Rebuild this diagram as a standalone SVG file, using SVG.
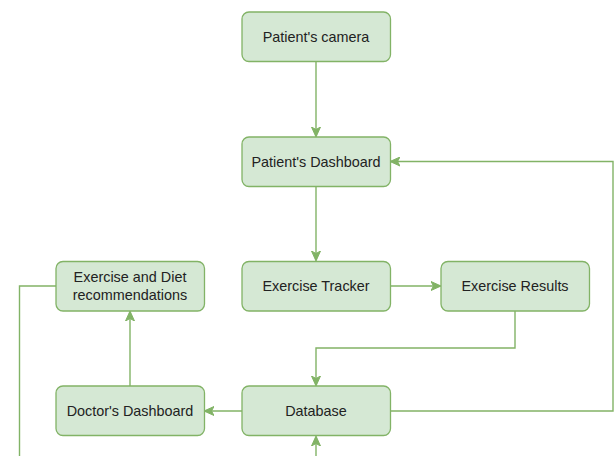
<svg xmlns="http://www.w3.org/2000/svg" width="614" height="456" viewBox="0 0 614 456">
<defs>
<style>
.n rect{fill:#d5e8d4;stroke:#82b366;stroke-width:1.3}
.n text{font-family:"Liberation Sans",Arial,sans-serif;font-size:14.4px;fill:#222;text-anchor:middle;dominant-baseline:central}
.c path{fill:none;stroke:#82b366;stroke-width:1.4}
</style>
<marker id="a" viewBox="0 0 10 10" refX="9" refY="5" markerWidth="10" markerHeight="10" markerUnits="userSpaceOnUse" orient="auto">
<path d="M0,0.5 L10,5 L0,9.5 L2.5,5 Z" fill="#82b366" stroke="#82b366" stroke-width="1"/>
</marker>
</defs>
<rect width="614" height="456" fill="#fff"/>
<g class="c">
<path d="M316,62 V136" marker-end="url(#a)"/>
<path d="M316,186 V260" marker-end="url(#a)"/>
<path d="M390,286 H440" marker-end="url(#a)"/>
<path d="M515,311 V348 H316 V385" marker-end="url(#a)"/>
<path d="M242,411 H205" marker-end="url(#a)"/>
<path d="M130,386 V312" marker-end="url(#a)"/>
<path d="M390,411 H613 V161.5 H391" marker-end="url(#a)"/>
<path d="M56,286 H19.5 V456"/>
<path d="M316,456 V437" marker-end="url(#a)"/>
</g>
<g id="camera" class="n"><rect x="242" y="12" width="148.5" height="49.5" rx="7"/><text x="316" y="37">Patient's camera</text></g>
<g id="pdash" class="n"><rect x="242" y="137" width="148.5" height="49.5" rx="7"/><text x="316" y="161.5">Patient's Dashboard</text></g>
<g id="tracker" class="n"><rect x="242" y="261.5" width="148.5" height="49.5" rx="7"/><text x="316" y="286">Exercise Tracker</text></g>
<g id="results" class="n"><rect x="441" y="261.5" width="148.5" height="49.5" rx="7"/><text x="515" y="286">Exercise Results</text></g>
<g id="recs" class="n"><rect x="56" y="261.5" width="148.5" height="49.5" rx="7"/><text x="130" y="277">Exercise and Diet</text><text x="130" y="295">recommendations</text></g>
<g id="ddash" class="n"><rect x="56" y="386" width="148.5" height="49.5" rx="7"/><text x="130" y="411">Doctor's Dashboard</text></g>
<g id="db" class="n"><rect x="242" y="386" width="148.5" height="49.5" rx="7"/><text x="316" y="411">Database</text></g>
</svg>
